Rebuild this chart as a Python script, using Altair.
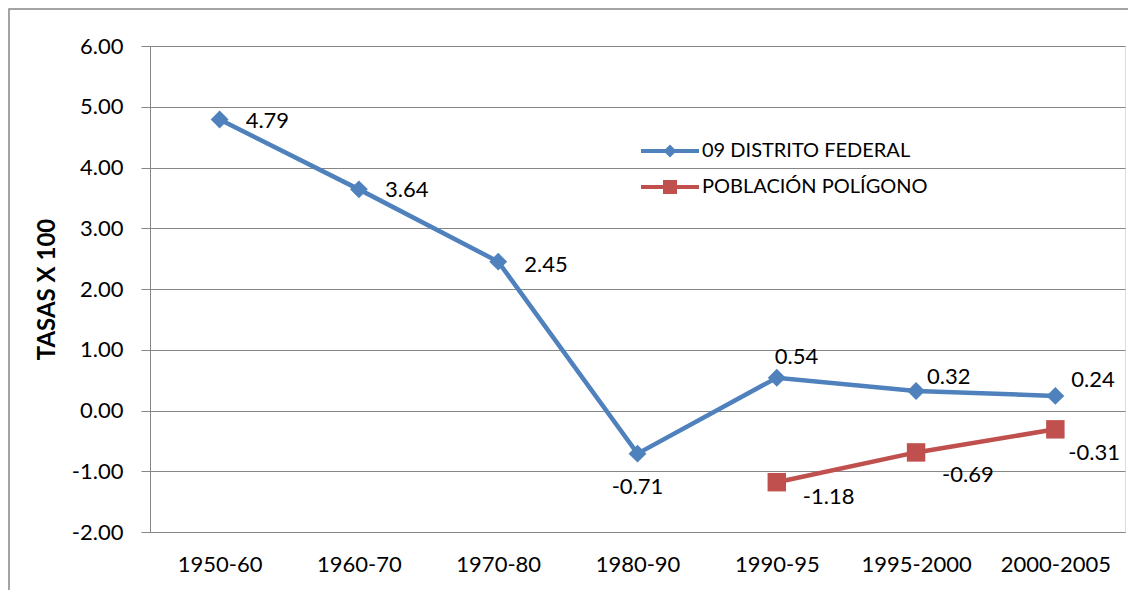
import altair as alt
import pandas as pd

periods = ["1950-60", "1960-70", "1970-80", "1980-90", "1990-95", "1995-2000", "2000-2005"]
df_values = [4.79, 3.64, 2.45, -0.71, 0.54, 0.32, 0.24]
pol_periods = ["1990-95", "1995-2000", "2000-2005"]
pol_values = [-1.18, -0.69, -0.31]
series_names = ["09 DISTRITO FEDERAL", "POBLACIÓN POLÍGONO"]
series_colors = ["#4F81BD", "#C0504D"]
y_ticks = [-2, -1, 0, 1, 2, 3, 4, 5, 6]

rows = [{"period": p, "value": v, "series": series_names[0], "label": f"{v:.2f}"} for p, v in zip(periods, df_values)]
rows += [{"period": p, "value": v, "series": series_names[1], "label": f"{v:.2f}"} for p, v in zip(pol_periods, pol_values)]
data = pd.DataFrame(rows)

FONT = "Lato"
GRID = "#868686"
FS = 22

x_enc = alt.X("period:N", sort=periods, scale=alt.Scale(type="point", padding=0.5),
              axis=alt.Axis(title=None, ticks=False, domain=True, domainColor=GRID,
                            labelFont=FONT, labelFontSize=FS, labelColor="#000000",
                            labelPadding=22, labelAngle=0, grid=False))
y_enc = alt.Y("value:Q", scale=alt.Scale(domain=[-2, 6], nice=False, zero=False),
              axis=alt.Axis(title="TASAS X 100", values=y_ticks, format=".2f",
                            labelExpr="replace(datum.label, '\u2212', '-')",
                            grid=True, gridColor=GRID, gridWidth=1,
                            domainColor=GRID, tickColor=GRID, tickSize=9,
                            labelFont=FONT, labelFontSize=FS, labelColor="#000000",
                            labelPadding=18, titleFont=FONT, titleFontSize=24,
                            titleFontWeight="bold", titleColor="#000000", titlePadding=12))

base = alt.Chart(data)

def ser(i):
    return base.transform_filter(alt.datum.series == series_names[i])

lines = [
    ser(i).mark_line(strokeWidth=4.5, color=series_colors[i]).encode(x=x_enc, y=y_enc)
    for i in range(2)
]
diamonds = ser(0).mark_point(shape="diamond", filled=True, opacity=1, size=320,
                             color=series_colors[0]).encode(x=x_enc, y=y_enc)
squares = ser(1).mark_point(shape="square", filled=True, opacity=1, size=340,
                            color=series_colors[1]).encode(x=x_enc, y=y_enc)

def lbl(i, which, dx, dy, align="left"):
    return ser(i).transform_filter(
        alt.FieldOneOfPredicate(field="period", oneOf=which)
    ).mark_text(font=FONT, fontSize=FS, color="#000000", align=align, baseline="middle",
                dx=dx, dy=dy).encode(x=x_enc, y=y_enc, text="label:N")

labels = [
    lbl(0, ["1950-60", "1960-70"], 26, 1),
    lbl(0, ["1970-80"], 26, 3),
    lbl(0, ["1980-90"], 0, 33, "center"),
    lbl(0, ["1990-95"], -2, -21),
    lbl(0, ["1995-2000"], 11, -14),
    lbl(0, ["2000-2005"], 16, -16),
    lbl(1, ["1990-95"], 26, 15),
    lbl(1, ["1995-2000"], 26, 23),
    lbl(1, ["2000-2005"], 13, 24),
]

diamond_path = ("M-2.9,-0.2L-0.45,-0.2L0,-0.65L0.45,-0.2L2.9,-0.2L2.9,0.2"
                "L0.45,0.2L0,0.65L-0.45,0.2L-2.9,0.2Z")
square_path = ("M-2.9,-0.2L-0.7,-0.2L-0.7,-0.7L0.7,-0.7L0.7,-0.2L2.9,-0.2L2.9,0.2"
               "L0.7,0.2L0.7,0.7L-0.7,0.7L-0.7,0.2L-2.9,0.2Z")

legend = alt.Legend(title=None, orient="none", legendX=510, legendY=95, padding=0,
                    symbolSize=400, symbolStrokeWidth=0, symbolOpacity=1,
                    labelFont=FONT, labelFontSize=20, labelColor="#000000", labelLimit=0,
                    labelOffset=22, rowPadding=16)
legend_layer = base.mark_point(filled=True, opacity=0).encode(
    x=x_enc, y=y_enc,
    color=alt.Color("series:N", scale=alt.Scale(domain=series_names, range=series_colors), legend=legend),
    shape=alt.Shape("series:N", scale=alt.Scale(domain=series_names, range=[diamond_path, square_path]), legend=legend),
)

border = alt.Chart(pd.DataFrame([{"a": 1}])).mark_rect(fill=None, stroke=GRID, strokeWidth=1.5).encode(
    x=alt.value(-141), y=alt.value(-37), x2=alt.value(1100), y2=alt.value(700)
)

chart = alt.layer(border, *lines, diamonds, squares, *labels, legend_layer).properties(
    width=975, height=486,
    autosize=alt.AutoSizeParams(type="none"),
    padding={"left": 142, "top": 38, "right": 3, "bottom": 58},
).configure_view(stroke=None).configure(background="#ffffff")

chart.save("out.html", embed_options={"renderer": "svg", "actions": False})
